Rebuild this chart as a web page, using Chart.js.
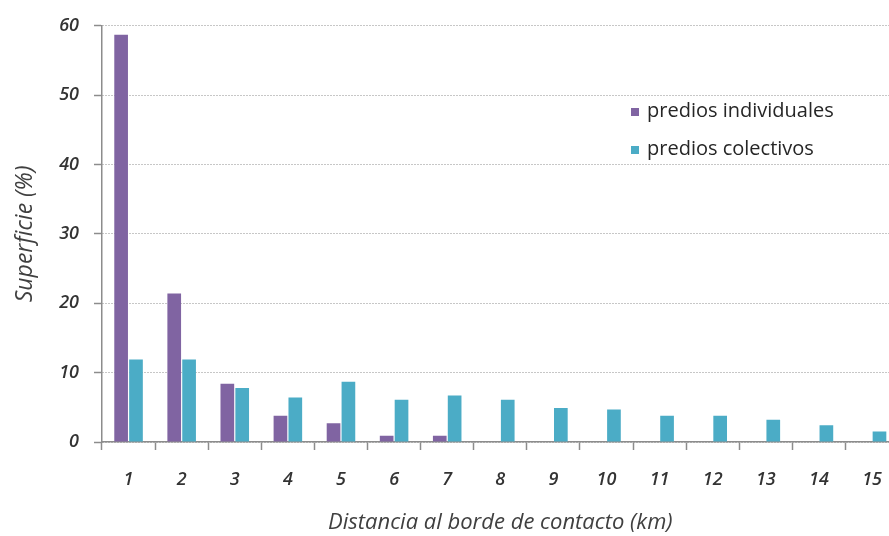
<!DOCTYPE html>
<html><head><meta charset="utf-8">
<script src="https://cdn.jsdelivr.net/npm/chart.js@4"></script>
<style>
html,body{margin:0;padding:0;background:#fff;overflow:hidden;width:889px;height:536px}
#wrap{position:absolute;left:0;top:0;width:901px;height:536px}
</style>
</head><body>
<div id="wrap"><canvas id="c" width="901" height="536"></canvas></div>
<script>
const categories = ['1','2','3','4','5','6','7','8','9','10','11','12','13','14','15'];
const individuales = [58.7,21.4,8.4,3.8,2.7,0.9,0.9,0,0,0,0,0,0,0,0];
const colectivos = [11.9,11.9,7.8,6.4,8.7,6.1,6.7,6.1,4.9,4.7,3.8,3.8,3.2,2.4,1.5];
const yTicks = [0,10,20,30,40,50,60];
const seriesNames = ['predios individuales','predios colectivos'];
const seriesColors = ['#8064A2','#4BACC6'];
const xTitle = 'Distancia al borde de contacto (km)';
const yTitle = 'Superficie (%)';

const FONT = '"Open Sans", Lato, sans-serif';
const legendPlugin = {
  id: 'insideLegend',
  afterDraw(chart, args, opts) {
    const ctx = chart.ctx;
    ctx.save();
    ctx.font = opts.fontSize + 'px ' + FONT;
    ctx.textBaseline = 'middle';
    ctx.textAlign = 'left';
    chart.data.datasets.forEach((ds, i) => {
      const y = opts.y + i * opts.gap;
      ctx.fillStyle = ds.backgroundColor;
      ctx.fillRect(opts.x, y - opts.box / 2, opts.box, opts.box);
      ctx.fillStyle = opts.color;
      ctx.fillText(ds.label, opts.x + opts.box + opts.textGap, y - 1);
    });
    ctx.restore();
  }
};

const tickFont = { family: FONT, size: 18, style: 'italic', weight: '600' };

new Chart(document.getElementById('c'), {
  type: 'bar',
  data: {
    labels: categories,
    datasets: [
      { label: seriesNames[0], data: individuales, backgroundColor: seriesColors[0] },
      { label: seriesNames[1], data: colectivos, backgroundColor: seriesColors[1] }
    ]
  },
  options: {
    responsive: false,
    animation: false,
    devicePixelRatio: 1,
    layout: { padding: { top: 25, right: 1, bottom: 0, left: 0 } },
    datasets: { bar: { categoryPercentage: 0.56, barPercentage: 0.92 } },
    plugins: {
      legend: { display: false },
      tooltip: { enabled: false },
      insideLegend: { x: 631, y: 112, gap: 38, box: 8, textGap: 8, fontSize: 20, color: '#262626' }
    },
    scales: {
      x: {
        offset: true,
        afterFit(s) { s.height = 94; },
        grid: { drawOnChartArea: false, drawTicks: true, tickLength: 8, tickColor: '#8c8c8c', tickWidth: 1.5, offset: true },
        border: { display: true, color: '#8c8c8c', width: 1.5 },
        ticks: { color: '#333333', font: tickFont, padding: 19, maxRotation: 0, autoSkip: false },
        title: { display: true, text: xTitle, color: '#404040', font: { family: FONT, size: 22, style: 'italic' }, padding: { top: 0, bottom: 0 } }
      },
      y: {
        min: 0, max: 60,
        afterFit(s) { s.width = 102; },
        afterBuildTicks(s) { s.ticks = yTicks.map(v => ({ value: v })); },
        grid: { color: '#8f8f8f', lineWidth: 1, drawTicks: true, tickLength: 8, tickColor: '#8c8c8c', tickWidth: 1.5, tickBorderDash: [] },
        border: { display: true, color: '#8c8c8c', width: 1.5, dash: [1, 2] },
        ticks: { color: '#333333', font: tickFont, padding: 15 },
        title: { display: true, text: yTitle, color: '#404040', font: { family: FONT, size: 23, style: 'italic' }, padding: { top: 12, bottom: 0 } }
      }
    }
  },
  plugins: [legendPlugin]
});
</script>
</body></html>
